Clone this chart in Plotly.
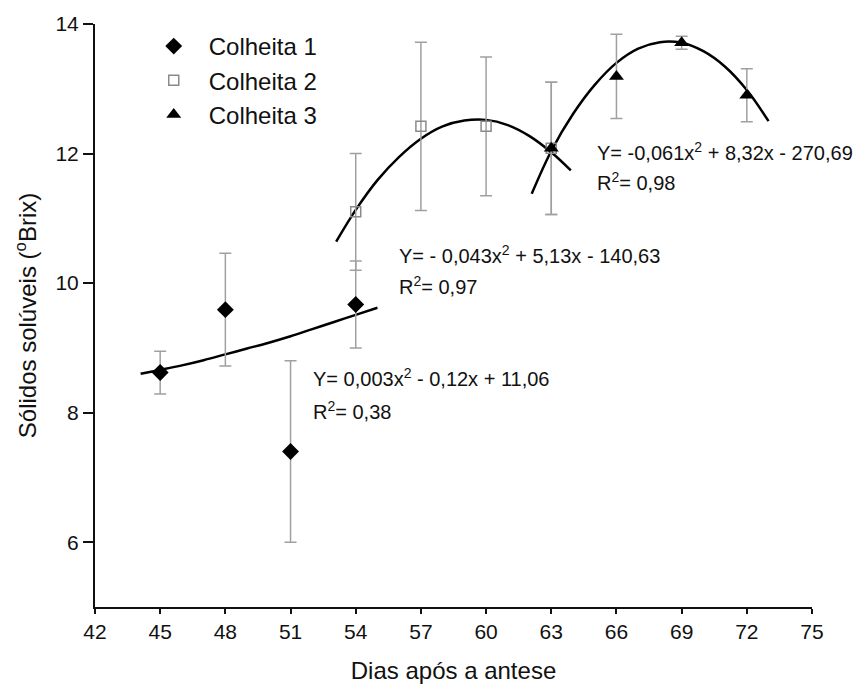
import plotly.graph_objects as go

# ---- data ----
c1_x = [45, 48, 51, 54]
c1_y = [8.62, 9.59, 7.40, 9.67]
c1_err = [0.33, 0.87, 1.40, 0.67]

c2_x = [54, 57, 60, 63]
c2_y = [11.10, 12.42, 12.42, 12.08]
c2_err = [0.90, 1.30, 1.07, 1.02]

c3_x = [63, 66, 69, 72]
c3_y = [12.08, 13.19, 13.71, 12.90]
c3_err = [1.02, 0.65, 0.10, 0.41]

# fitted curves
f1_x = [44.1, 45, 46, 47, 48, 49, 50, 51, 52, 53, 54, 55]
f1_y = [8.60, 8.66, 8.73, 8.81, 8.90, 8.99, 9.08, 9.18, 9.29, 9.40, 9.51, 9.62]
f2_x = [53.1, 54, 55, 56, 57, 58, 59, 60, 61, 62, 63, 63.9]
f2_y = [10.64, 11.13, 11.59, 11.95, 12.23, 12.42, 12.51, 12.52, 12.44, 12.27, 12.02, 11.74]
f3_x = [62.1, 63, 64, 65, 66, 67, 68, 69, 70, 71, 72, 73]
f3_y = [11.38, 12.04, 12.61, 13.06, 13.40, 13.62, 13.72, 13.71, 13.58, 13.34, 12.98, 12.50]

x_ticks = [42, 45, 48, 51, 54, 57, 60, 63, 66, 69, 72, 75]
y_ticks = [6, 8, 10, 12, 14]

FONT = "Liberation Sans, Arial, sans-serif"
ERR = "#a0a0a0"

fig = go.Figure()

for fx, fy in [(f1_x, f1_y), (f2_x, f2_y), (f3_x, f3_y)]:
    fig.add_trace(go.Scatter(x=fx, y=fy, mode="lines", line=dict(color="black", width=2.5, shape="spline"),
                             showlegend=False, hoverinfo="skip"))

def err(e):
    return dict(type="data", array=e, visible=True, color=ERR, thickness=1.5, width=6)

fig.add_trace(go.Scatter(x=c1_x, y=c1_y, mode="markers", name="Colheita 1", error_y=err(c1_err),
                         marker=dict(symbol="diamond", size=13, color="black")))
fig.add_trace(go.Scatter(x=c2_x, y=c2_y, mode="markers", name="Colheita 2", error_y=err(c2_err),
                         marker=dict(symbol="square-open", size=10, color="#8a8a8a", line=dict(width=1.5))))
fig.add_trace(go.Scatter(x=c3_x, y=c3_y, mode="markers", name="Colheita 3", error_y=err(c3_err),
                         marker=dict(symbol="triangle-up", size=13, color="black")))

ann = [
    (51.94, 8.54, "Y= 0,003x<sup>2</sup> - 0,12x + 11,06"),
    (51.94, 8.04, "R<sup>2</sup>= 0,38"),
    (55.88, 10.44, "Y= - 0,043x<sup>2</sup> + 5,13x - 140,63"),
    (55.88, 9.97, "R<sup>2</sup>= 0,97"),
    (65.03, 12.03, "Y= -0,061x<sup>2</sup> + 8,32x - 270,69"),
    (65.03, 11.57, "R<sup>2</sup>= 0,98"),
]
for ax, ay, t in ann:
    fig.add_annotation(x=ax, y=ay, text=t, showarrow=False, xanchor="left", yanchor="middle",
                       font=dict(family=FONT, size=20, color="#111"))

fig.update_layout(
    width=858, height=695,
    margin=dict(l=95, r=46, t=24, b=88),
    paper_bgcolor="white", plot_bgcolor="white",
    font=dict(family=FONT, color="#111"),
    legend=dict(x=0.061, y=1.0, xanchor="left", yanchor="top", bgcolor="rgba(0,0,0,0)",
                font=dict(family=FONT, size=24, color="#111"), itemwidth=60, tracegroupgap=0),
    xaxis=dict(range=[42, 75], tickvals=x_ticks, ticktext=[str(v) for v in x_ticks],
               showgrid=False, zeroline=False, showline=True, linecolor="#111", linewidth=2,
               ticks="outside", ticklen=5, tickwidth=2, tickcolor="#111",
               tickfont=dict(size=21, family=FONT, color="#111"),
               title=dict(text="Dias após a antese", font=dict(size=24, family=FONT, color="#111"), standoff=20)),
    yaxis=dict(range=[5, 14], tickvals=y_ticks, ticktext=[str(v) for v in y_ticks],
               showgrid=False, zeroline=False, showline=True, linecolor="#111", linewidth=2,
               ticks="outside", ticklen=10, tickwidth=2, tickcolor="#111",
               tickfont=dict(size=21, family=FONT, color="#111"),
               title=dict(text="Sólidos solúveis (<sup>o</sup>Brix)", font=dict(size=24, family=FONT, color="#111"), standoff=12)),
)

fig.write_html("out.html")
